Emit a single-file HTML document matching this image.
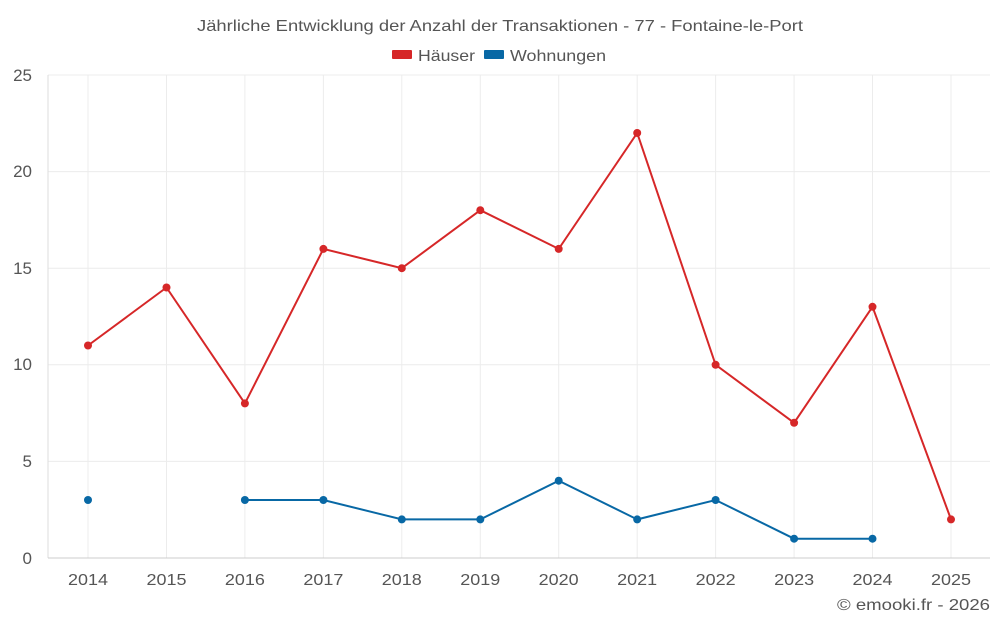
<!DOCTYPE html>
<html><head><meta charset="utf-8"><style>
body{margin:0;background:#fff;}
svg{display:block;font-family:"Liberation Sans",sans-serif;}
</style></head><body>
<svg width="1000" height="625" viewBox="0 0 1000 625">
<text x="197" y="31" textLength="606" lengthAdjust="spacingAndGlyphs" font-size="16" fill="#555">Jährliche Entwicklung der Anzahl der Transaktionen - 77 - Fontaine-le-Port</text>
<rect x="392" y="50" width="20" height="9" fill="#d62728" rx="1"/>
<text x="418" y="61" textLength="57" lengthAdjust="spacingAndGlyphs" font-size="16" fill="#555">Häuser</text>
<rect x="484" y="50" width="20" height="9" fill="#0868a5" rx="1"/>
<text x="510" y="61" textLength="96" lengthAdjust="spacingAndGlyphs" font-size="16" fill="#555">Wohnungen</text>
<g stroke="#ececec" stroke-width="1">
<line x1="48" y1="75" x2="990" y2="75"/>
<line x1="48" y1="171.6" x2="990" y2="171.6"/>
<line x1="48" y1="268.2" x2="990" y2="268.2"/>
<line x1="48" y1="364.8" x2="990" y2="364.8"/>
<line x1="48" y1="461.4" x2="990" y2="461.4"/>
<line x1="88" y1="75" x2="88" y2="558"/><line x1="166.5" y1="75" x2="166.5" y2="558"/><line x1="244.9" y1="75" x2="244.9" y2="558"/><line x1="323.4" y1="75" x2="323.4" y2="558"/><line x1="401.8" y1="75" x2="401.8" y2="558"/><line x1="480.3" y1="75" x2="480.3" y2="558"/><line x1="558.7" y1="75" x2="558.7" y2="558"/><line x1="637.2" y1="75" x2="637.2" y2="558"/><line x1="715.6" y1="75" x2="715.6" y2="558"/><line x1="794.1" y1="75" x2="794.1" y2="558"/><line x1="872.5" y1="75" x2="872.5" y2="558"/><line x1="951" y1="75" x2="951" y2="558"/>
</g>
<line x1="48" y1="75" x2="48" y2="558" stroke="#ddd"/>
<line x1="48" y1="558" x2="990" y2="558" stroke="#ccc"/>
<g font-size="17" fill="#555" text-anchor="end">
<text x="32" y="81">25</text><text x="32" y="177">20</text><text x="32" y="274">15</text><text x="32" y="370">10</text><text x="32" y="467">5</text><text x="32" y="564">0</text>
</g>
<g font-size="16" fill="#555">
<text x="68" y="585" textLength="40" lengthAdjust="spacingAndGlyphs">2014</text><text x="146.5" y="585" textLength="40" lengthAdjust="spacingAndGlyphs">2015</text><text x="224.9" y="585" textLength="40" lengthAdjust="spacingAndGlyphs">2016</text><text x="303.4" y="585" textLength="40" lengthAdjust="spacingAndGlyphs">2017</text><text x="381.8" y="585" textLength="40" lengthAdjust="spacingAndGlyphs">2018</text><text x="460.3" y="585" textLength="40" lengthAdjust="spacingAndGlyphs">2019</text><text x="538.7" y="585" textLength="40" lengthAdjust="spacingAndGlyphs">2020</text><text x="617.2" y="585" textLength="40" lengthAdjust="spacingAndGlyphs">2021</text><text x="695.6" y="585" textLength="40" lengthAdjust="spacingAndGlyphs">2022</text><text x="774.1" y="585" textLength="40" lengthAdjust="spacingAndGlyphs">2023</text><text x="852.5" y="585" textLength="40" lengthAdjust="spacingAndGlyphs">2024</text><text x="931" y="585" textLength="40" lengthAdjust="spacingAndGlyphs">2025</text>
</g>
<polyline fill="none" stroke="#d62728" stroke-width="2" points="88,345.5 166.5,287.5 244.9,403.4 323.4,248.9 401.8,268.2 480.3,210.2 558.7,248.9 637.2,132.96 715.6,364.8 794.1,422.8 872.5,306.8 951,519.4"/>
<g fill="#d62728"><circle cx="88" cy="345.5" r="4"/><circle cx="166.5" cy="287.5" r="4"/><circle cx="244.9" cy="403.4" r="4"/><circle cx="323.4" cy="248.9" r="4"/><circle cx="401.8" cy="268.2" r="4"/><circle cx="480.3" cy="210.2" r="4"/><circle cx="558.7" cy="248.9" r="4"/><circle cx="637.2" cy="132.96" r="4"/><circle cx="715.6" cy="364.8" r="4"/><circle cx="794.1" cy="422.8" r="4"/><circle cx="872.5" cy="306.8" r="4"/><circle cx="951" cy="519.4" r="4"/></g>
<polyline fill="none" stroke="#0868a5" stroke-width="2" points="244.9,500 323.4,500 401.8,519.4 480.3,519.4 558.7,480.7 637.2,519.4 715.6,500 794.1,538.7 872.5,538.7"/>
<g fill="#0868a5"><circle cx="88" cy="500" r="4"/><circle cx="244.9" cy="500" r="4"/><circle cx="323.4" cy="500" r="4"/><circle cx="401.8" cy="519.4" r="4"/><circle cx="480.3" cy="519.4" r="4"/><circle cx="558.7" cy="480.7" r="4"/><circle cx="637.2" cy="519.4" r="4"/><circle cx="715.6" cy="500" r="4"/><circle cx="794.1" cy="538.7" r="4"/><circle cx="872.5" cy="538.7" r="4"/></g>
<text x="837" y="610" textLength="153" lengthAdjust="spacingAndGlyphs" font-size="16" fill="#555">© emooki.fr - 2026</text>
</svg>
</body></html>
